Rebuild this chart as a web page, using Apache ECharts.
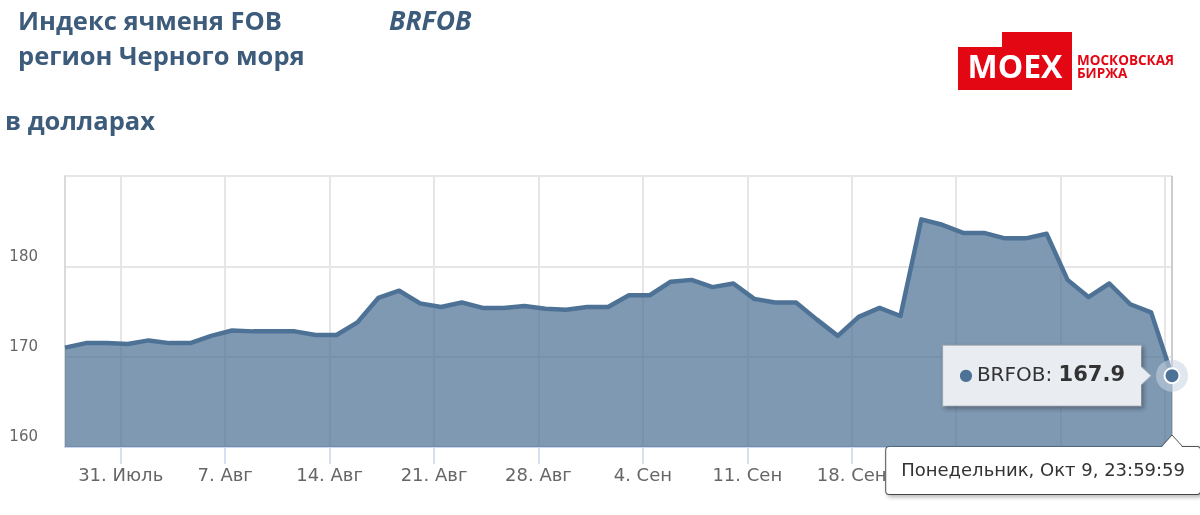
<!DOCTYPE html>
<html>
<head>
<meta charset="utf-8">
<script src="https://cdn.jsdelivr.net/npm/echarts@6/dist/echarts.min.js"></script>
<style>
  html, body { margin: 0; padding: 0; background: #fff; }
  #main { width: 1200px; height: 515px; }
</style>
</head>
<body>
<div id="main"></div>
<script>
// торговые дни (без выходных), 26.07 - 09.10
const dates = ['26.07','27.07','28.07',
  '31.07','01.08','02.08','03.08','04.08',
  '07.08','08.08','09.08','10.08','11.08',
  '14.08','15.08','16.08','17.08','18.08',
  '21.08','22.08','23.08','24.08','25.08',
  '28.08','29.08','30.08','31.08','01.09',
  '04.09','05.09','06.09','07.09','08.09',
  '11.09','12.09','13.09','14.09','15.09',
  '18.09','19.09','20.09','21.09','22.09',
  '25.09','26.09','27.09','28.09','29.09',
  '02.10','03.10','04.10','05.10','06.10',
  '09.10']
const values = [171.0, 171.5, 171.5,
  171.4, 171.8, 171.5, 171.5, 172.3,
  172.9, 172.8, 172.8, 172.8, 172.4,
  172.4, 173.8, 176.5, 177.3, 175.9,
  175.5, 176.0, 175.4, 175.4, 175.6,
  175.3, 175.2, 175.5, 175.5, 176.8,
  176.8, 178.3, 178.5, 177.7, 178.1,
  176.4, 176.0, 176.0, 174.1, 172.3,
  174.4, 175.4, 174.5, 185.2, 184.6,
  183.7, 183.7, 183.1, 183.1, 183.6,
  178.5, 176.6, 178.1, 175.8, 174.9,
  167.9]
// понедельники - подписи оси
const weekStarts = ['31.07','07.08','14.08','21.08','28.08','04.09','11.09','18.09','25.09','02.10','09.10']
const tickLabels = ['31. Июль','7. Авг','14. Авг','21. Авг','28. Авг','4. Сен','11. Сен','18. Сен','25. Сен','2. Окт','9. Окт']
const hoverLabel = 'Понедельник, Окт 9, 23:59:59'

const seriesName = 'BRFOB'
const mainColor = '#4e7296'
const textColor = '#3d5b7a'
const last = values.length - 1
// полночь понедельника - 2/3 пути от точки пятницы (23:59:59) до точки понедельника
const tickValues = weekStarts.map(d => dates.indexOf(d) - 1 / 3)

const chart = echarts.init(document.getElementById('main'))

const titleFont = { fontFamily: 'Open Sans', fontWeight: 'bold', fontSize: 25.5, color: textColor, lineHeight: 35 }

const option = {
  animation: false,
  backgroundColor: '#fff',
  textStyle: { fontFamily: 'DejaVu Sans' },
  title: [
    { text: 'Индекс ячменя FOB\nрегион Черного моря', left: 18, top: 5, padding: 0, textStyle: titleFont },
    { text: seriesName, left: 389, top: 5, padding: 0, textStyle: Object.assign({}, titleFont, { fontStyle: 'italic', fontSize: 26.5 }) },
    { text: 'в долларах', left: 5, top: 105, padding: 0, textStyle: titleFont }
  ],
  grid: { left: 65, right: 28, top: 176, bottom: 68 },
  xAxis: {
    type: 'value',
    min: 0,
    max: last,
    axisLine: { show: true, lineStyle: { color: '#ccd6eb', width: 2 } },
    axisTick: { show: true, customValues: tickValues, length: 17, lineStyle: { color: '#ccd6eb', width: 1.5 } },
    axisLabel: {
      customValues: tickValues,
      margin: 20,
      fontSize: 18,
      color: '#666',
      formatter: v => {
        const i = tickValues.findIndex(t => Math.abs(t - v) < 0.01)
        return i >= 0 ? tickLabels[i] : ''
      }
    },
    splitLine: { show: true, lineStyle: { color: '#e6e6e6', width: 2 } },
    axisPointer: {
      show: true,
      value: last,
      status: 'show',
      snap: false,
      z: 1,
      lineStyle: { color: '#cccccc', width: 2, type: 'solid' },
      label: {
        show: true,
        formatter: () => hoverLabel,
        backgroundColor: '#fff',
        borderColor: '#555',
        borderWidth: 1,
        color: '#333',
        fontSize: 18,
        fontFamily: 'DejaVu Sans',
        padding: [15, 15, 14, 15],
        margin: 0,
        shadowBlur: 4,
        shadowOffsetX: 2,
        shadowOffsetY: 2,
        shadowColor: 'rgba(0,0,0,0.25)'
      }
    }
  },
  yAxis: {
    type: 'value',
    min: 160,
    max: 190,
    interval: 10,
    axisLine: { show: true, lineStyle: { color: '#dadada', width: 2 } },
    axisTick: { show: false },
    axisLabel: { showMaxLabel: false, margin: 27, fontSize: 15, color: '#666', verticalAlign: 'bottom', padding: [0, 0, 2, 0] },
    splitLine: { lineStyle: { color: '#e6e6e6', width: 2 } }
  },
  series: [
    {
      name: seriesName,
      type: 'line',
      data: values.map((v, i) => [i, v]),
      symbol: 'none',
      z: 2,
      lineStyle: { color: mainColor, width: 4.5, join: 'round' },
      areaStyle: { color: mainColor, opacity: 0.72, origin: 'start' }
    },
    {
      // ореол вокруг активной точки
      type: 'scatter',
      data: [[last, values[last]]],
      symbolSize: 32,
      z: 3,
      silent: true,
      itemStyle: { color: 'rgb(200,212,225)', opacity: 0.55 }
    },
    {
      type: 'scatter',
      data: [[last, values[last]]],
      symbolSize: 15,
      z: 4,
      itemStyle: { color: mainColor, borderColor: '#fff', borderWidth: 2, opacity: 1 },
      label: {
        show: true,
        position: 'left',
        distance: 22.5,
        formatter: p => '{dot|●} {name|' + seriesName + ': }{val|' + p.value[1].toFixed(1) + '}',
        backgroundColor: 'rgb(233,237,242)',
        borderColor: '#a3adb9',
        borderWidth: 1,
        padding: [18, 16, 18, 16],
        shadowBlur: 4,
        shadowOffsetX: 2,
        shadowOffsetY: 2,
        shadowColor: 'rgba(0,0,0,0.25)',
        rich: {
          dot: { color: mainColor, fontSize: 16, fontFamily: 'DejaVu Sans', lineHeight: 24 },
          name: { color: '#333', fontSize: 20, fontFamily: 'DejaVu Sans', lineHeight: 24 },
          val: { color: '#333', fontSize: 21, fontWeight: 'bold', fontFamily: 'DejaVu Sans', lineHeight: 24 }
        }
      }
    }
  ]
}
chart.setOption(option)

// стрелки подсказок и логотип
const pt = chart.convertToPixel({ gridIndex: 0 }, [last, values[last]])
const axisY = chart.convertToPixel({ gridIndex: 0 }, [0, 160])[1]
const red = '#e30613'
chart.setOption({
  graphic: [
    { type: 'polygon', z: 100, shape: { points: [[pt[0] - 31, pt[1] - 9], [pt[0] - 21, pt[1]], [pt[0] - 31, pt[1] + 9]] }, style: { fill: 'rgb(233,237,242)' } },
    { type: 'polyline', z: 100, shape: { points: [[pt[0] - 30, pt[1] - 9], [pt[0] - 21, pt[1]], [pt[0] - 30, pt[1] + 9]] }, style: { stroke: '#a3adb9', lineWidth: 1, fill: null } },
    { type: 'polygon', z: 100, shape: { points: [[pt[0] - 11, axisY + 1], [pt[0], axisY - 12], [pt[0] + 11, axisY + 1]] }, style: { fill: '#fff' } },
    { type: 'polyline', z: 100, shape: { points: [[pt[0] - 11, axisY], [pt[0], axisY - 12], [pt[0] + 11, axisY]] }, style: { stroke: '#555', lineWidth: 1, fill: null } },
    { type: 'polygon', shape: { points: [[958, 47], [1002, 47], [1002, 32], [1072, 32], [1072, 90], [958, 90]] }, style: { fill: red } },
    { type: 'text', x: 1015, y: 69, style: { text: 'MOEX', fill: '#fff', font: 'bold 32px "Open Sans"', align: 'center', verticalAlign: 'middle' } },
    { type: 'text', x: 1077, y: 61, style: { text: 'МОСКОВСКАЯ', fill: red, font: 'bold 13.5px "Open Sans"', verticalAlign: 'middle' } },
    { type: 'text', x: 1077, y: 74, style: { text: 'БИРЖА', fill: red, font: 'bold 13.5px "Open Sans"', verticalAlign: 'middle' } }
  ]
})
</script>
</body>
</html>
